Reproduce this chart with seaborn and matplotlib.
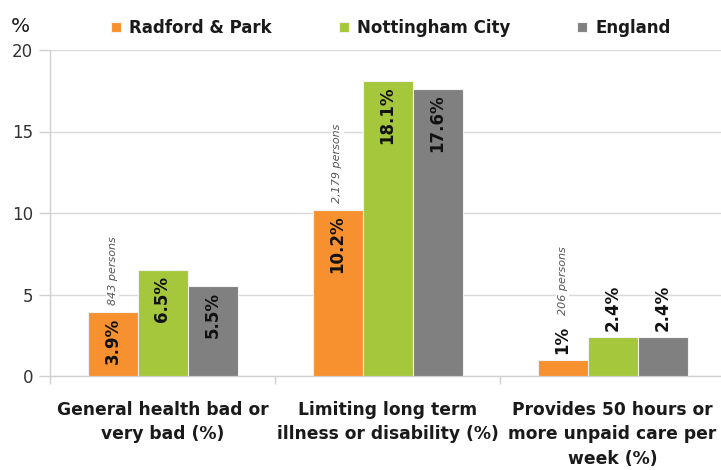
import matplotlib
matplotlib.use("Agg")
import matplotlib.pyplot as plt
import seaborn as sns
import pandas as pd

# Census health indicators for Radford & Park ward vs city and national
indicators = [
    "General health bad or\nvery bad (%)",
    "Limiting long term\nillness or disability (%)",
    "Provides 50 hours or\nmore unpaid care per\nweek (%)",
]
areas = ["Radford & Park", "Nottingham City", "England"]
radford = [3.9, 10.2, 1.0]
nottingham = [6.5, 18.1, 2.4]
england = [5.5, 17.6, 2.4]
ward_counts = ["843 persons", "2,179 persons", "206 persons"]
colors = ["#F7912F", "#A5C73C", "#808080"]

sns.set_theme(style="white")
plt.rcParams["font.family"] = ["DejaVu Sans"]

rows = []
for area, vals in zip(areas, [radford, nottingham, england]):
    for ind, v in zip(indicators, vals):
        rows.append({"indicator": ind, "area": area, "value": v})
df = pd.DataFrame(rows)

fig = plt.figure(figsize=(7.21, 4.70), dpi=100)
ax = fig.add_axes([50 / 721, 94 / 470, 675 / 721, 326 / 470])

sns.barplot(data=df, x="indicator", y="value", hue="area", order=indicators,
            hue_order=areas, palette=colors, width=2 / 3, gap=0,
            edgecolor="#F2F2F2", linewidth=0.8, saturation=1, ax=ax,
            legend=True, zorder=3)

ax.set_ylim(0, 20)
ax.set_xlim(-0.5, 2.5)
ax.set_xlabel("")
ax.set_ylabel("")
ax.set_yticks([0, 5, 10, 15, 20])
ax.yaxis.grid(True, color="#D9D9D9", linewidth=1.0, zorder=0)
ax.set_axisbelow(True)
for side in ["top", "right"]:
    ax.spines[side].set_visible(False)
for side in ["left", "bottom"]:
    ax.spines[side].set_color("#D0D0D0")
    ax.spines[side].set_linewidth(1.0)

ax.tick_params(axis="y", which="major", length=8, width=1, color="#D0D0D0",
               labelsize=12, labelcolor="#333333", pad=4, left=True)
ax.set_xticks([0, 1, 2])
ax.set_xticklabels(indicators, fontsize=12.3, fontweight="bold",
                   color="#1A1A1A", linespacing=1.45)
ax.tick_params(axis="x", which="major", length=0, pad=18)
ax.set_xticks([-0.5, 0.5, 1.5], minor=True)
ax.tick_params(axis="x", which="minor", length=6, width=1, color="#D0D0D0",
               bottom=True)

# value labels: inside the top of each bar, except for the small care values
for ci, container in enumerate(ax.containers):
    for bi, bar in enumerate(container):
        h = bar.get_height()
        x = bar.get_x() + bar.get_width() / 2
        txt = f"{h:g}%"
        if bi < 2:
            ax.annotate(txt, (x, h), xytext=(0, -4), textcoords="offset points",
                        rotation=90, ha="center", va="top", fontsize=12,
                        fontweight="bold", color="#111111", zorder=5)
        else:
            ax.annotate(txt, (x, h), xytext=(0, 4), textcoords="offset points",
                        rotation=90, ha="center", va="bottom", fontsize=12,
                        fontweight="bold", color="#111111", zorder=5)

# ward head counts above the Radford & Park bars
for bi, bar in enumerate(ax.containers[0]):
    h = bar.get_height()
    x = bar.get_x() + bar.get_width() / 2
    off = 5 if bi < 2 else 32
    ax.annotate(ward_counts[bi], (x, h), xytext=(0, off),
                textcoords="offset points", rotation=90, ha="center",
                va="bottom", fontsize=8, fontstyle="italic", color="#555555",
                zorder=5,
                bbox=dict(boxstyle="square,pad=0.15", fc="white", ec="none"))

handles, labels = ax.get_legend_handles_labels()
ax.legend_.remove()
leg = fig.legend(handles, labels, loc="center", bbox_to_anchor=(391 / 721, 1 - 28 / 470),
                 ncol=3, frameon=False, handlelength=0.6, handleheight=0.6,
                 handletextpad=0.5, columnspacing=4.0,
                 prop={"size": 12, "weight": "bold"})
for t in leg.get_texts():
    t.set_color("#1A1A1A")

fig.text(20 / 721, 1 - 26 / 470, "%", ha="center", va="center", fontsize=14.5,
         color="#1A1A1A")

fig.savefig("out.png", dpi=100, facecolor="white")
